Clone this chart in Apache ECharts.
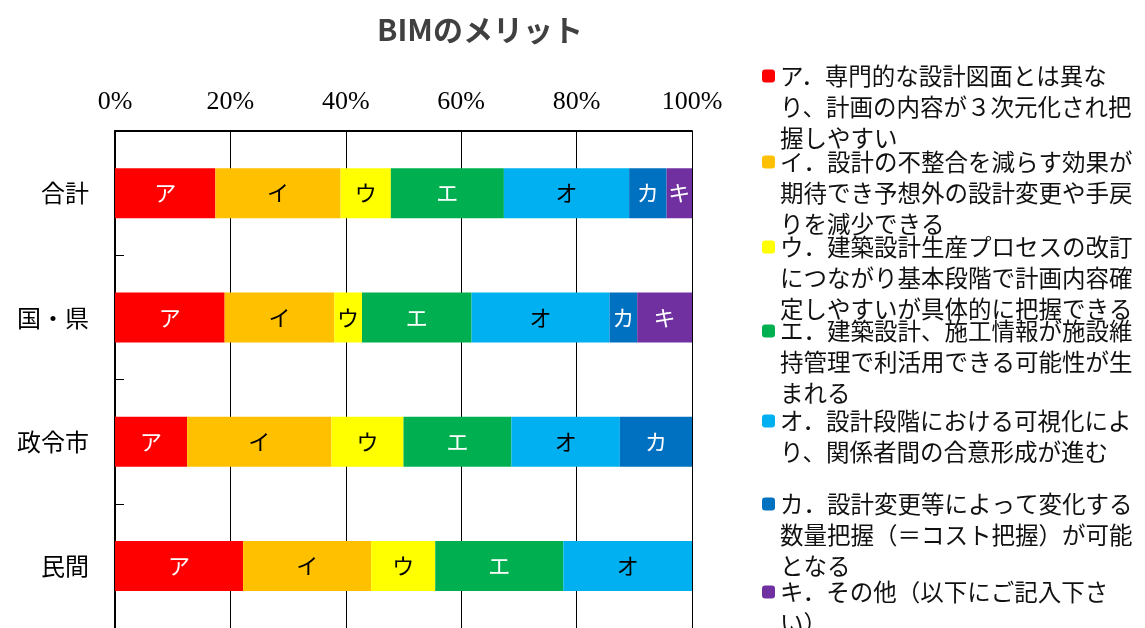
<!DOCTYPE html>
<html>
<head>
<meta charset="utf-8">
<script src="https://cdn.jsdelivr.net/npm/echarts@6/dist/echarts.min.js"></script>
<style>
  html, body { margin: 0; padding: 0; background: #fff; }
  #chart { width: 1145px; height: 628px; }
</style>
</head>
<body>
<div id="chart"></div>
<script>
// 回答者区分
var categories = ['合計', '国・県', '政令市', '民間'];
// 割合(%)
var valA = [17.4, 19.0, 12.5, 22.2];
var valI = [21.7, 19.0, 25.0, 22.2];
var valU = [8.7, 4.8, 12.5, 11.1];
var valE = [19.6, 19.0, 18.7, 22.2];
var valO = [21.7, 23.9, 18.8, 22.3];
var valKa = [6.5, 4.8, 12.5, 0];
var valKi = [4.4, 9.5, 0, 0];
var xTicks = [0, 20, 40, 60, 80, 100];

var names = ['ア', 'イ', 'ウ', 'エ', 'オ', 'カ', 'キ'];
var legendText = [
  ['ア．専門的な設計図面とは異な', 'り、計画の内容が３次元化され把', '握しやすい'],
  ['イ．設計の不整合を減らす効果が', '期待でき予想外の設計変更や手戻', 'りを減少できる'],
  ['ウ．建築設計生産プロセスの改訂', 'につながり基本段階で計画内容確', '定しやすいが具体的に把握できる'],
  ['エ．建築設計、施工情報が施設維', '持管理で利活用できる可能性が生', 'まれる'],
  ['オ．設計段階における可視化によ', 'り、関係者間の合意形成が進む'],
  ['カ．設計変更等によって変化する', '数量把握（＝コスト把握）が可能', 'となる'],
  ['キ．その他（以下にご記入下さ', 'い）']
];
var values = [valA, valI, valU, valE, valO, valKa, valKi];

var colors = ['#FF0000', '#FFC000', '#FFFF00', '#00B050', '#00B0F0', '#0070C0', '#7030A0'];
var labelColors = ['#fff', '#000', '#000', '#fff', '#000', '#fff', '#fff'];
var legendMarkY = [76, 162, 247, 331, 421, 504, 592];
var LH = 31;
var font = '"Noto Sans CJK JP", sans-serif';

var series = names.map(function (n, i) {
  return {
    name: n,
    type: 'bar',
    stack: 'total',
    barWidth: 50,
    data: values[i],
    itemStyle: { color: colors[i] },
    label: {
      show: true,
      position: 'inside',
      color: labelColors[i],
      fontFamily: font,
      fontSize: 22,
      formatter: function (p) { return p.value > 0 ? p.seriesName : ''; }
    }
  };
});

// 凡例: 先頭行をマーカーの高さに揃えるため、上に空行を足して中央揃えをずらす
var legends = names.map(function (n, i) {
  var lines = legendText[i];
  var k = lines.length;
  var pad = [];
  for (var j = 0; j < k - 1; j++) pad.push('');
  var txt = pad.concat(lines).join('\n');
  return {
    data: [n],
    orient: 'vertical',
    left: 762,
    top: legendMarkY[i] - (2 * k - 1) * LH / 2,
    padding: 0,
    itemWidth: 13,
    itemHeight: 13,
    selectedMode: false,
    formatter: function () { return txt; },
    textStyle: {
      fontFamily: font,
      fontSize: 23.5,
      lineHeight: LH,
      color: '#111'
    }
  };
});

var chart = echarts.init(document.getElementById('chart'));
chart.setOption({
  animation: false,
  backgroundColor: '#fff',
  title: {
    text: 'BIMのメリット',
    left: 372,
    top: 10,
    textStyle: { fontFamily: font, fontSize: 30, fontWeight: 'bold', color: '#404040' }
  },
  legend: legends,
  grid: { left: 115, top: 131, width: 577, height: 500 },
  xAxis: {
    type: 'value',
    position: 'top',
    min: xTicks[0],
    max: xTicks[xTicks.length - 1],
    interval: xTicks[1] - xTicks[0],
    axisLine: { show: true, lineStyle: { color: '#000', width: 2 } },
    axisTick: { show: false },
    splitLine: { show: true, lineStyle: { color: '#000', width: 1 } },
    axisLabel: {
      formatter: '{value}%',
      fontFamily: '"Liberation Serif", serif',
      fontSize: 26,
      color: '#000',
      margin: 16
    }
  },
  yAxis: {
    type: 'category',
    inverse: true,
    data: categories,
    axisLine: { show: true, lineStyle: { color: '#000', width: 2 } },
    axisTick: { show: true, inside: true, length: 9, lineStyle: { color: '#000', width: 1 } },
    axisLabel: { fontFamily: font, fontSize: 24, color: '#000', margin: 26 }
  },
  series: series
});
</script>
</body>
</html>
